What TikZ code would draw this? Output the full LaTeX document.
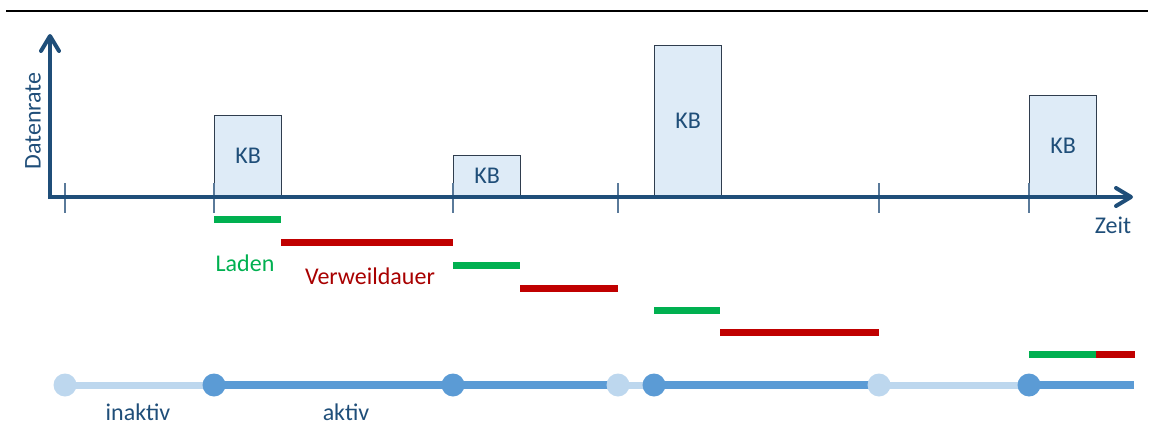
\documentclass[tikz,border=0pt]{standalone}
\usepackage{fontspec}
\setmainfont{Carlito}
\usetikzlibrary{arrows.meta}
\definecolor{axisblue}{HTML}{1F4E79}
\definecolor{boxfill}{HTML}{DEEBF7}
\definecolor{boxline}{HTML}{2F3D4E}
\definecolor{tickc}{HTML}{5A7A9A}
\definecolor{ladegreen}{HTML}{00B050}
\definecolor{waitred}{HTML}{C00000}
\definecolor{waittext}{HTML}{A80000}
\definecolor{activec}{HTML}{5B9BD5}
\definecolor{idlec}{HTML}{BDD7EE}
\begin{document}
\begin{tikzpicture}[x=1pt,y=-1pt,
  every node/.style={font=\fontsize{24}{28}\selectfont},
  kbbox/.style={draw=boxline, line width=1.2pt, fill=boxfill, text=axisblue,
    minimum width=67pt, anchor=south west, inner sep=0pt},
  axisline/.style={draw=axisblue, line width=4pt,
    -{Straight Barb[length=15pt,width=18pt,line width=4pt,round]}},
  tickmark/.style={draw=tickc, line width=1.5pt},
  loadbar/.style={draw=ladegreen, line width=7pt},
  waitbar/.style={draw=waitred, line width=7pt},
  activeseg/.style={draw=activec, line width=8pt},
  idleseg/.style={draw=idlec, line width=7pt},
  activedot/.style={circle, fill=activec, minimum size=23pt, inner sep=0pt},
  idledot/.style={circle, fill=idlec, minimum size=23pt, inner sep=0pt},
  axislabel/.style={text=axisblue}]
\useasboundingbox (0,0) rectangle (1154,439);

% top rule
\draw[line width=2pt] (6,11) -- (1148,11);

% data bursts (KB)
\node[kbbox, minimum height=81pt]  (kb1) at (214,197) {KB};
\node[kbbox, minimum height=41pt]  (kb2) at (453,197) {KB};
\node[kbbox, minimum height=151pt] (kb3) at (654,197) {KB};
\node[kbbox, minimum height=101pt] (kb4) at (1029,197) {KB};

% tick marks on the time axis
\foreach \x in {65,214,453,618,879,1029}
  \draw[tickmark] (\x,183) -- (\x,213);

% axes
\coordinate (origin) at (50,197);
\coordinate (ytop) at (50,34);
\coordinate (xend) at (1133,197);
\draw[axisline] (50,199) -- (ytop);
\draw[axisline] (48,197) -- (xend);
\node[axislabel, rotate=90] (ylab) at (33,121) {Datenrate};
\node[axislabel, anchor=base] (xlab) at (1113,233) {Zeit};

% loading and dwell phases
\draw[loadbar] (214,219) -- (281,219);
\draw[waitbar] (281,242) -- (453,242);
\draw[loadbar] (453,265) -- (520,265);
\draw[waitbar] (520,288) -- (618,288);
\draw[loadbar] (654,310) -- (720,310);
\draw[waitbar] (720,332) -- (879,332);
\draw[loadbar] (1029,354) -- (1096,354);
\draw[waitbar] (1096,354) -- (1135,354);
\node[text=ladegreen, anchor=base] (laden) at (245,271) {Laden};
\node[text=waittext, anchor=base] (verweil) at (370,284) {Verweildauer};

% state timeline
\coordinate (s0) at (65,385);
\coordinate (s1) at (214,385);
\coordinate (s2) at (453,385);
\coordinate (s3) at (618,385);
\coordinate (s4) at (654,385);
\coordinate (s5) at (879,385);
\coordinate (s6) at (1029,385);
\coordinate (s7) at (1134,385);
\draw[idleseg] (s0) -- (s1);
\draw[activeseg] (s1) -- (s3);
\draw[idleseg] (s3) -- (s4);
\draw[activeseg] (s4) -- (s5);
\draw[idleseg] (s5) -- (s6);
\draw[activeseg] (s6) -- (s7);
\node[idledot] (d0) at (s0) {};
\node[activedot] (d1) at (s1) {};
\node[activedot] (d2) at (s2) {};
\node[idledot] (d3) at (s3) {};
\node[activedot] (d4) at (s4) {};
\node[idledot] (d5) at (s5) {};
\node[activedot] (d6) at (s6) {};
\node[axislabel] (inaktiv) at (138,412) {inaktiv};
\node[axislabel] (aktiv) at (346,412) {aktiv};
\end{tikzpicture}
\end{document}
